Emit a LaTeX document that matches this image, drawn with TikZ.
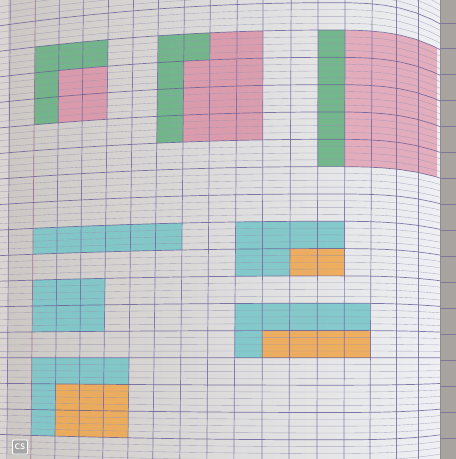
\documentclass[tikz,border=0pt]{standalone}
\usetikzlibrary{calc}
\definecolor{paperA}{RGB}{204,199,195}
\definecolor{paperB}{RGB}{222,222,224}
\definecolor{paperC}{RGB}{238,240,243}
\definecolor{leftstrip}{RGB}{218,213,210}
\definecolor{rstrip}{RGB}{168,163,158}
\definecolor{majorc}{RGB}{100,90,150}
\definecolor{minorc}{RGB}{150,148,178}
\definecolor{vertc}{RGB}{110,100,160}
\definecolor{marginc}{RGB}{150,100,130}
\definecolor{cgreen}{RGB}{105,178,132}
\definecolor{cpink}{RGB}{218,150,168}
\definecolor{cpinkb}{RGB}{226,166,183}
\definecolor{ccyan}{RGB}{122,198,200}
\definecolor{corange}{RGB}{238,168,82}
\pgfkeys{/gcs/.cd, i/.store in=\gcsI, j/.store in=\gcsJ, x/.store in=\gcsX, y/.store in=\gcsY}
\def\XT{{10,35,59,83,108,133,158,184,210,237,263,291,318,345,372,396,418,437}}
\def\XB{{7,31,55,79,103,128,153,180,207,234,262,289,317,344,370,396,418,437}}
\newcommand\hprofile[1]{%
  \pgfmathparse{(#1)<=330 ? -17*(1-((330-(#1))/295)*((330-(#1))/295)) : -17+18*(((#1)-330)/107)*(((#1)-330)/107)*(((#1)-330)/107)}%
  \edef\gHp{\pgfmathresult}}
% grid intersection: column i, major row j
\tikzdeclarecoordinatesystem{g}{%
  \pgfkeys{/gcs/.cd,#1}%
  \pgfmathsetmacro\gyz{47+25.9*(\gcsJ)}%
  \pgfmathsetmacro\gxt{\XT[int(\gcsI)]}%
  \pgfmathsetmacro\gxb{\XB[int(\gcsI)]}%
  \hprofile{\gxt}%
  \pgfmathsetmacro\gyy{\gyz+(357-\gyz)/310*\gHp}%
  \pgfmathsetmacro\gxx{\gxt+(\gxb-\gxt)*(\gyy-40)/400}%
  \hprofile{\gxx}%
  \pgfmathsetmacro\gyy{\gyz+(357-\gyz)/310*\gHp}%
  \pgfpoint{\gxx pt}{-\gyy pt}}
% point on horizontal ruled line j at abscissa x
\tikzdeclarecoordinatesystem{h}{%
  \pgfkeys{/gcs/.cd,#1}%
  \pgfmathsetmacro\gyz{47+25.9*(\gcsJ)}%
  \hprofile{\gcsX}%
  \pgfmathsetmacro\gyy{\gyz+(357-\gyz)/310*\gHp}%
  \pgfpoint{\gcsX pt}{-\gyy pt}}
% point on vertical line i at height y
\tikzdeclarecoordinatesystem{v}{%
  \pgfkeys{/gcs/.cd,#1}%
  \pgfmathsetmacro\gxt{\XT[int(\gcsI)]}%
  \pgfmathsetmacro\gxb{\XB[int(\gcsI)]}%
  \pgfmathsetmacro\gxx{\gxt+(\gxb-\gxt)*((\gcsY)-40)/400}%
  \pgfpoint{\gxx pt}{-\gcsY pt}}
\newcommand\cellrect[5]{%
  \fill[#1] (g cs:i=#2,j=#3) \foreach \k in {#2,...,#4}{ -- (g cs:i=\k,j=#3)}
    -- (g cs:i=#4,j=#5) \foreach \k in {#4,...,#2}{ -- (g cs:i=\k,j=#5)} -- cycle;}
\tikzset{
  grn/.style={fill=cgreen, fill opacity=0.9},
  pnk/.style={fill=cpink, fill opacity=0.9},
  pnkb/.style={fill=cpinkb, fill opacity=0.9},
  cyn/.style={fill=ccyan, fill opacity=0.9},
  org/.style={fill=corange, fill opacity=0.9},
  majorline/.style={draw=majorc, line width=0.7pt, opacity=0.8},
  minorline/.style={draw=minorc, line width=0.35pt, opacity=0.75},
  vertline/.style={draw=vertc, line width=0.7pt, opacity=0.8},
  logo/.style={draw=white, line width=0.8pt, fill=black!35, text=white,
    font=\sffamily\bfseries\fontsize{8}{8}\selectfont, inner sep=1.5pt,
    minimum width=15pt, minimum height=14pt, rounded corners=1pt}
}
\begin{document}
\begin{tikzpicture}
\useasboundingbox (0pt,0pt) rectangle (456pt,-459pt);
% paper
\shade[left color=paperA, middle color=paperB, right color=paperC] (0pt,0pt) rectangle (440pt,-459pt);
\fill[leftstrip] (0pt,0pt) rectangle (8pt,-459pt);
% coloured cells: top row of squares
\cellrect{grn}{1}{0}{4}{1}
\cellrect{grn}{1}{1}{2}{3}
\cellrect{pnk}{2}{1}{4}{3}
\cellrect{grn}{6}{0}{7}{4}
\cellrect{grn}{7}{0}{8}{1}
\cellrect{pnk}{8}{0}{10}{1}
\cellrect{pnk}{7}{1}{10}{4}
\cellrect{grn}{12}{0}{13}{5}
\cellrect{pnkb}{13}{0}{17}{5}
% lower figures
\cellrect{cyn}{1}{7}{7}{8}
\cellrect{cyn}{1}{9}{4}{11}
\cellrect{cyn}{1}{12}{5}{13}
\cellrect{cyn}{1}{13}{2}{15}
\cellrect{org}{2}{13}{5}{15}
\cellrect{cyn}{9}{7}{13}{8}
\cellrect{cyn}{9}{8}{11}{9}
\cellrect{org}{11}{8}{13}{9}
\cellrect{cyn}{9}{10}{14}{11}
\cellrect{cyn}{9}{11}{10}{12}
\cellrect{org}{10}{11}{14}{12}
% minor ruled lines
\foreach \j in {-2,...,16}{
  \foreach \q in {0.25,0.5,0.75}{
    \draw[minorline] (h cs:x=0,j=\j+\q) \foreach \xx in {16,32,...,432,440}{ -- (h cs:x=\xx,j=\j+\q)};
  }
}
% major ruled lines
\foreach \j in {-1,...,16}{
  \draw[majorline] (h cs:x=0,j=\j) \foreach \xx in {16,32,...,432,440}{ -- (h cs:x=\xx,j=\j)};
}
% vertical lines
\draw[vertline] (v cs:i=0,y=0) -- (v cs:i=0,y=459);
\draw[vertline, draw=marginc] (v cs:i=1,y=0) -- (v cs:i=1,y=459);
\foreach \i in {2,...,16}{
  \draw[vertline] (v cs:i=\i,y=0) -- (v cs:i=\i,y=459);
}
% next page strip on the right
\fill[rstrip] (440pt,0pt) rectangle (456pt,-459pt);
\draw[black!45, line width=0.8pt] (440pt,0pt) -- (440pt,-459pt);
\foreach \yy in {23,48,74,100,126,152,178,204,230,256,282,308,334,360,386,412,438}{
  \draw[majorc!60!rstrip, line width=0.5pt] (440pt,-\yy pt) -- (456pt,-\yy pt);
}
% scanner logo
\node[logo] (cslogo) at (20pt,-447pt) {CS};
\end{tikzpicture}
\end{document}
